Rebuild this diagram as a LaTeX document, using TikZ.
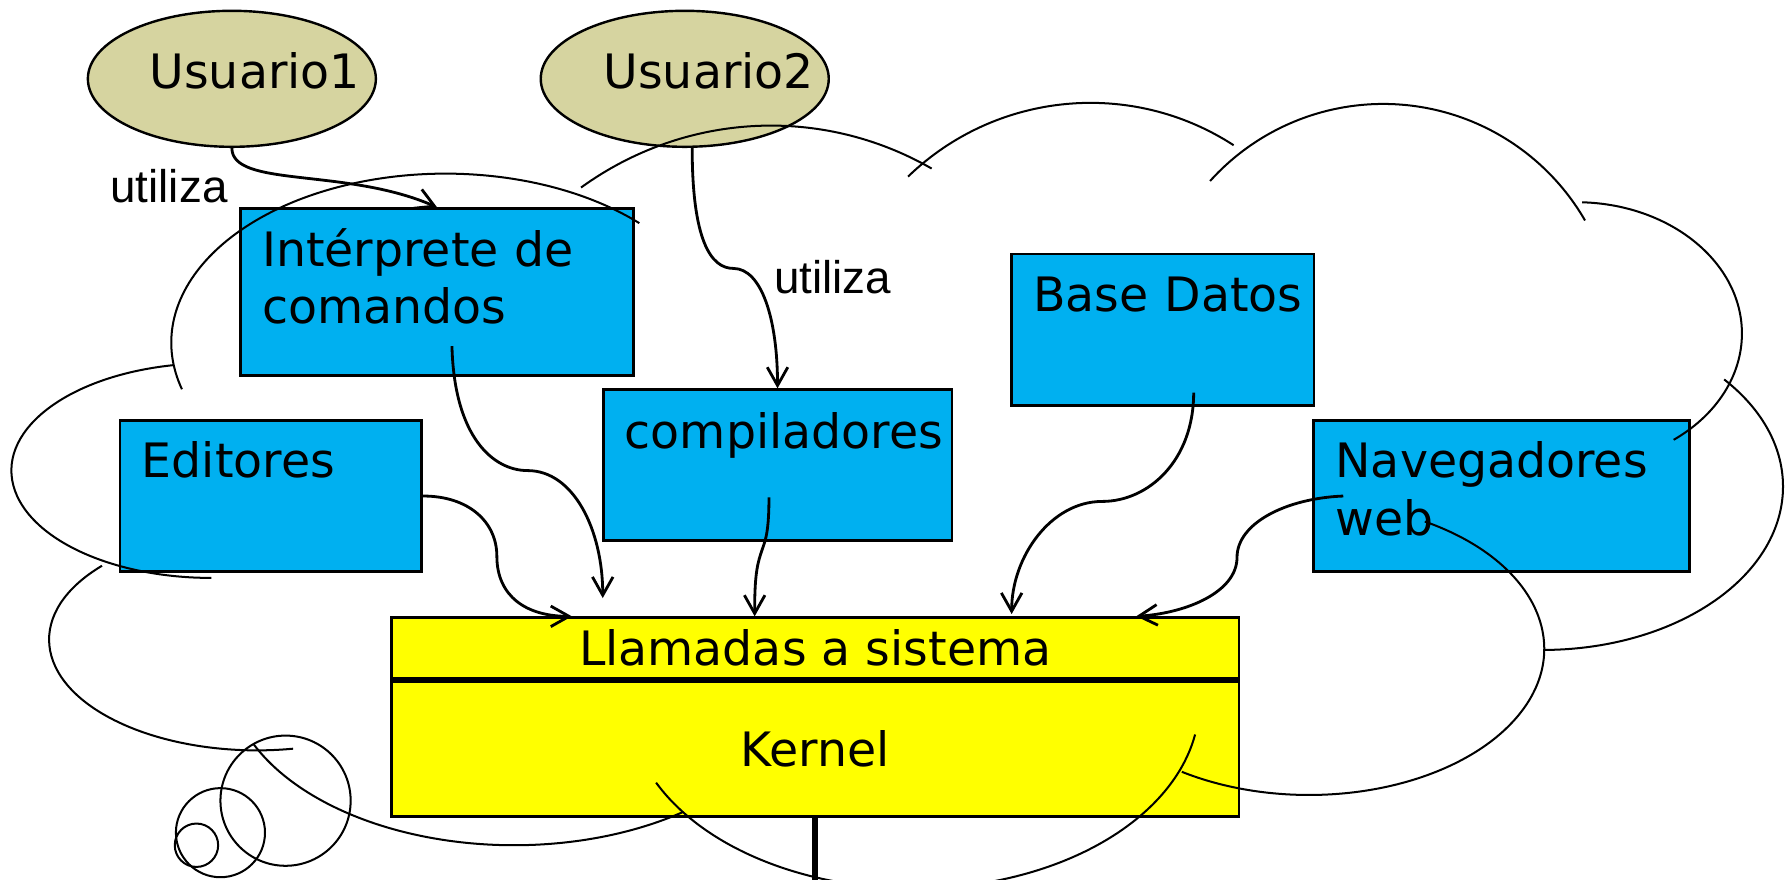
\documentclass[tikz,border=0pt]{standalone}
\usepackage{fontspec}
\setmainfont{DejaVu Sans}
\newfontfamily\utilfont{Liberation Sans}
\usetikzlibrary{positioning,shapes.geometric,arrows.meta}
\definecolor{userfill}{RGB}{214,212,160}
\definecolor{appblue}{RGB}{0,176,240}
\definecolor{kernyellow}{RGB}{255,255,0}

\begin{document}
\begin{tikzpicture}[x=0.01cm, y=-0.01cm, >={Straight Barb[length=1.6mm,width=1.8mm]},
	user/.style={ellipse, draw, fill=userfill, line width=0.6pt, minimum width=2.52cm, minimum height=1.19cm, inner sep=0pt},
	utext/.style={inner sep=0pt, font=\fontsize{11.8}{14.3}\selectfont},
	app/.style={draw, fill=appblue, line width=0.7pt, anchor=north west, align=left, inner xsep=0.19cm, inner ysep=0pt, font=\fontsize{11.8}{14.3}\selectfont},
	kbox/.style={draw, fill=kernyellow, line width=0.7pt, minimum width=7.415cm, inner sep=0pt, font=\fontsize{11.8}{14.3}\selectfont},
	label/.style={inner sep=0pt, anchor=base west, font=\utilfont\fontsize{11.4}{13}\selectfont},
	cloudarc/.style={line width=0.5pt},
	uses/.style={->, line width=0.7pt}]
	\useasboundingbox (0,0) rectangle (1568,770);
	\clip (0,0) rectangle (1568,770);
	% users
	\node[user] (u1) at (203,69) {};
	\node[user] (u2) at (599.5,69) {};
	\node[utext, anchor=base] (u1t) at ([shift={(20,8.3)}]u1.center) {Usuario1};
	\node[utext, anchor=base] (u2t) at ([shift={(21,8.3)}]u2.center) {Usuario2};
	% programs
	\node[app, text width=3.063cm, text height=0.505cm, text depth=0.955cm] (interp) at (209.2,181.5) {Intérprete de\\comandos};
	\node[app, text width=2.259cm, text height=0.50cm, text depth=0.82cm] (edit) at (103.9,367) {Editores};
	\node[app, text width=2.672cm, text height=0.51cm, text depth=0.81cm] (comp) at (526.8,340) {\mbox{compiladores}};
	\node[app, text width=2.265cm, text height=0.50cm, text depth=0.827cm] (bdat) at (884.5,221.2) {\mbox{Base Datos}};
	\node[app, text width=2.91cm, text height=0.50cm, text depth=0.82cm] (nav) at (1149,367) {Navegadores\\web};
	% kernel
	\node[kbox, anchor=north west, minimum height=0.53cm] (sysc) at (341.5,539.6) {Llamadas a sistema};
	\node[kbox, below=0pt of sysc, minimum height=1.185cm] (kern) {Kernel};
	\draw[line width=1.5pt] (kern.south) -- +(0,60);
	% cloud
	\draw[cloudarc] (159.3,340.8) arc[start angle=-196, end angle=-45, x radius=240, y radius=148];
	\draw[cloudarc] (508.7,164.2) arc[start angle=-125, end angle=-61, x radius=290, y radius=300];
	\draw[cloudarc] (795,154.6) arc[start angle=-134, end angle=-57, x radius=230, y radius=230];
	\draw[cloudarc] (1059.4,158.5) arc[start angle=-138, end angle=-30, x radius=204, y radius=204];
	\draw[cloudarc] (1385.1,177.1) arc[start angle=-88, end angle=54, x radius=145, y radius=115];
	\draw[cloudarc] (1509.5,332.2) arc[start angle=-41, end angle=90, x radius=210, y radius=143];
	\draw[cloudarc] (1247.4,456.6) arc[start angle=-60.5, end angle=122.7, x radius=206, y radius=128];
	\draw[cloudarc] (574.4,685.2) arc[start angle=-205.5, end angle=-350.1, x radius=250, y radius=163];
	\draw[cloudarc] (597.3,711.2) arc[start angle=53.9, end angle=155.7, x radius=250, y radius=150];
	\draw[cloudarc] (89.3,495.3) arc[start angle=-138.2, end angle=-280, x radius=182, y radius=97];
	\draw[cloudarc] (151.6,319.7) arc[start angle=-101, end angle=-270, x radius=175, y radius=94];
	\draw[cloudarc] (250,701) circle[radius=57];
	\draw[cloudarc] (193,729) circle[radius=39];
	\draw[cloudarc] (172,740) circle[radius=19];
	% uses
	\node[label] (use1) at (96,177) {utiliza};
	\node[label] (use2) at (677,257) {utiliza};
	\draw[uses] (u1.south) .. controls +(0,35) and +(-80,-35) .. (interp.north);
	\draw[uses] ([shift={(6.5,0)}]u2.south) .. controls +(0,80) and +(-20,0) .. (642,235) .. controls +(25,0) and +(0,-60) .. (comp.north);
	\draw[uses] ([shift={(13,-27)}]interp.south) .. controls +(2,80) and +(-30,0) .. (462,412) .. controls +(40,0) and +(0,-60) .. ([shift={(-186,-16)}]sysc.north);
	\draw[uses] (edit.east) .. controls +(40,0) and +(0,-30) .. (435,487) .. controls +(0,35) and +(-40,0) .. ([shift={(-213,0)}]sysc.north);
	\draw[uses] ([shift={(-7.5,-39)}]comp.south) .. controls +(0,35) and +(3,-10) .. (666,485) .. controls +(-4,12) and +(0,-30) .. ([shift={(-53,0)}]sysc.north);
	\draw[uses] ([shift={(27,-12.7)}]bdat.south) .. controls +(0,60) and +(40,0) .. (965,439) .. controls +(-45,0) and +(0,-50) .. ([shift={(172,-2)}]sysc.north);
	\draw[uses] ([shift={(27,0)}]nav.west) .. controls +(-50,2) and +(0,-30) .. (1083,488) .. controls +(0,30) and +(45,-3) .. ([shift={(281,0)}]sysc.north);
\end{tikzpicture}
\end{document}
